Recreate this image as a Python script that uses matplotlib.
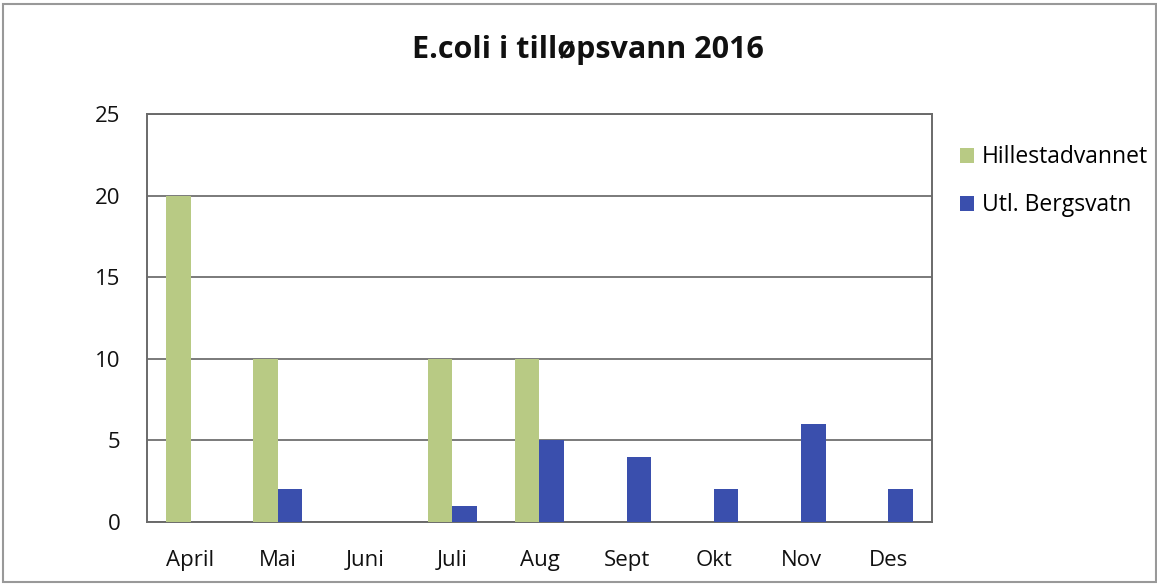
import matplotlib
matplotlib.use("Agg")
import matplotlib.pyplot as plt
from matplotlib.patches import Rectangle
import numpy as np

months = ["April", "Mai", "Juni", "Juli", "Aug", "Sept", "Okt", "Nov", "Des"]
hillestad = [20, 10, 0, 10, 10, 0, 0, 0, 0]
bergsvatn = [0, 2, 0, 1, 5, 4, 2, 6, 2]
yticks = [0, 5, 10, 15, 20, 25]

plt.rcParams['font.family'] = ['Open Sans', 'DejaVu Sans']

fig = plt.figure(figsize=(11.57, 5.87), dpi=100)
ax = fig.add_axes([0.127, 0.1107, 0.6785, 0.6951])

green = "#B8CA84"
blue = "#3A4FAD"
x = np.arange(len(months))
w = 0.28
ax.bar(x - w/2, hillestad, width=w, color=green, label="Hillestadvannet", zorder=3)
ax.bar(x + w/2, bergsvatn, width=w, color=blue, label="Utl. Bergsvatn", zorder=3)

ax.set_xlim(-0.5, len(months) - 0.5)
ax.set_ylim(0, 25)
ax.set_yticks(yticks)
ax.set_xticks(x)
ax.set_xticklabels(months)
ax.tick_params(axis='both', length=0, labelsize=16, colors="#111111")
ax.tick_params(axis='y', pad=19)
ax.tick_params(axis='x', pad=20)
ax.yaxis.grid(True, color="#7a7a7a", linewidth=1.4, zorder=0)
for s in ax.spines.values():
    s.set_color("#6a6a6a")
    s.set_linewidth(1.4)

fig.text(0.508, 0.915, "E.coli i tilløpsvann 2016", ha="center", va="center",
         fontsize=22, fontweight="bold", color="#111111")

leg = fig.legend(loc="upper left", bbox_to_anchor=(0.822, 0.768), frameon=False,
                 fontsize=16.5, handlelength=0.6, handleheight=0.6, handletextpad=0.35,
                 labelspacing=1.05, borderaxespad=0)

fig.patches.append(Rectangle((0.003, 0.008), 0.996, 0.986, transform=fig.transFigure,
                             fill=False, edgecolor="#999999", linewidth=1.5))

fig.savefig("out.png", dpi=100)
